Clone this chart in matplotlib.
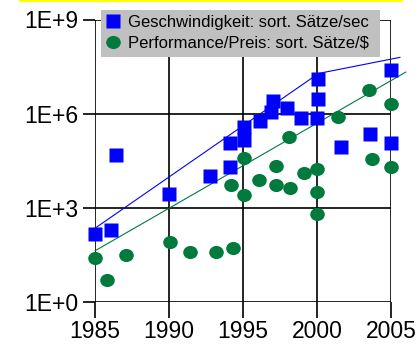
import matplotlib
matplotlib.use("Agg")
import matplotlib.pyplot as plt
from matplotlib.path import Path
from matplotlib.transforms import Affine2D
from matplotlib.patches import Rectangle
from matplotlib.lines import Line2D

plt.rcParams["font.family"] = ["Liberation Sans", "DejaVu Sans"]

BLUE  = "#0000FF"
GREEN = "#007A3D"
GREY  = "#C0C0C0"

# ── Data: sort benchmark results ─────────────────────────
speed_years = [1985.0, 1986.1, 1986.4, 1990.0, 1992.8, 1994.1, 1994.1, 1995.1,
               1995.1, 1996.15, 1996.9, 1997.0, 1997.95, 1998.95, 2000.0,
               2000.1, 2000.1, 2001.6, 2003.6, 2005.0, 2005.0]
speed_vals  = [140, 200, 46000, 2750, 10500, 20000, 117000, 148000,
               363000, 590000, 1.1e6, 2.57e6, 1.48e6, 740000, 740000,
               2.9e6, 1.23e7, 83000, 230000, 2.4e7, 115000]

price_years = [1985.0, 1985.8, 1987.1, 1990.1, 1991.4, 1993.2, 1994.3, 1994.2,
               1995.1, 1995.1, 1996.1, 1997.2, 1997.2, 1998.2, 1998.1, 1999.1,
               2000.0, 2000.0, 2000.0, 2001.4, 2003.5, 2003.7, 2005.0, 2005.0]
price_vals  = [24, 4.9, 32, 81, 39, 39, 50, 5400,
               37000, 2600, 7600, 22000, 5400, 4200, 174000, 12300,
               16600, 3200, 620, 760000, 5.6e6, 35000, 2.0e6, 19500]

speed_trend_years = [1985.0, 2000.1, 2005.6]
speed_trend_vals  = [220, 1.9e7, 6.2e7]
price_trend_years = [1985.0, 2006.0]
price_trend_vals  = [42, 2.1e7]

year_ticks = [1985, 1990, 1995, 2000, 2005]
y_ticks    = [1, 1e3, 1e6, 1e9]
y_labels   = ["1E+0", "1E+3", "1E+6", "1E+9"]

# slightly flattened dot
ellipse = Path.unit_circle().transformed(Affine2D().scale(1.0, 0.9))

fig = plt.figure(figsize=(4.19, 3.44), dpi=100)
W, H = 419, 344
ax = fig.add_axes([95 / W, 1 - 301.7 / H, 296 / W, 282.2 / H])

ax.plot(speed_trend_years, speed_trend_vals, color=BLUE, lw=0.8, clip_on=False, zorder=3)
ax.plot(price_trend_years, price_trend_vals, color=GREEN, lw=0.8, clip_on=False, zorder=3)
ax.plot(speed_years, speed_vals, ls="none", marker="s", ms=9.8, color=BLUE,
        mec="none", clip_on=False, zorder=4)
ax.plot(price_years, price_vals, ls="none", marker=ellipse, ms=10.5, color=GREEN,
        mec="none", clip_on=False, zorder=4)

ax.set_yscale("log")
ax.set_xlim(1985, 2005)
ax.set_ylim(1, 1e9)
ax.set_xticks(year_ticks)
ax.set_xticklabels([str(y) for y in year_ticks])
ax.set_yticks(y_ticks)
ax.set_yticklabels(y_labels)
ax.yaxis.set_minor_locator(matplotlib.ticker.NullLocator())

for s in ax.spines.values():
    s.set_visible(False)
ax.set_facecolor("none")
ax.grid(True, color="black", lw=1.2)
ax.set_axisbelow(True)
ax.tick_params(axis="x", length=11.5, width=1.2, pad=1.5, labelsize=16.5, direction="out")
ax.tick_params(axis="y", length=8.6, width=1.2, pad=3.5, labelsize=16.5, direction="out")

# grey legend panel, drawn over the top grid line
fig.add_artist(Rectangle((101 / W, 1 - 57 / H), 279 / W, 47 / H,
                         transform=fig.transFigure, color=GREY, lw=0, zorder=2))

handles = [
    Line2D([], [], ls="none", marker="s", ms=9.8, color=BLUE, mec="none"),
    Line2D([], [], ls="none", marker=ellipse, ms=10.5, color=GREEN, mec="none"),
]
leg = fig.legend(handles, ["Geschwindigkeit: sort. Sätze/sec",
                           "Performance/Preis: sort. Sätze/$"],
                 loc="upper left", bbox_to_anchor=(101 / W, 1 - 10 / H),
                 frameon=False, fontsize=12,
                 borderpad=0.3, handlelength=0.8, handletextpad=0.5,
                 labelspacing=0.35, borderaxespad=0)
leg.set_zorder(5)

# yellow strip along the top edge
fig.add_artist(Rectangle((19 / W, 1 - 2 / H), 384 / W, 2 / H,
                         transform=fig.transFigure, color="#FFFF00", lw=0))

fig.savefig("out.png", dpi=100)
